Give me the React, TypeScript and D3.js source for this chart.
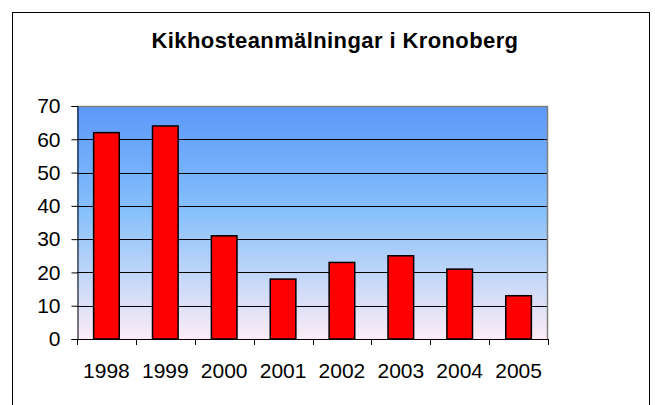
import * as React from "react";
import { useRef, useEffect } from "react";
import * as d3 from "d3";

const years = ["1998", "1999", "2000", "2001", "2002", "2003", "2004", "2005"];
const reports = [62, 64, 31, 18, 23, 25, 21, 13];
const yTicks = [0, 10, 20, 30, 40, 50, 60, 70];
const chartTitle = "Kikhosteanmälningar i Kronoberg";

export default function App() {
  const _ref = useRef<SVGSVGElement>(null);
  useEffect(() => {
    const svg = d3.select(_ref.current);
    svg.selectAll("*").remove();

    const left = 77, right = 548, top = 106, bottom = 339;
    const font = "Liberation Sans, Arial, sans-serif";

    const x = d3.scaleBand().domain(years).range([left, right]).paddingInner(0.565).paddingOuter(0.2825);
    const y = d3.scaleLinear().domain([0, 70]).range([bottom, top]);

    // outer frame
    svg.append("rect")
      .attr("x", 12.5).attr("y", 12.5).attr("width", 637).attr("height", 420)
      .attr("fill", "white").attr("stroke", "black").attr("stroke-width", 1);

    svg.append("text")
      .attr("x", 335).attr("y", 48)
      .attr("text-anchor", "middle")
      .style("font-family", font)
      .style("font-size", "22px").style("font-weight", "bold")
      .style("letter-spacing", "0.4px")
      .text(chartTitle);

    // gradient background
    const defs = svg.append("defs");
    const grad = defs.append("linearGradient").attr("id", "bg").attr("x1", 0).attr("y1", 0).attr("x2", 0).attr("y2", 1);
    grad.append("stop").attr("offset", "0%").attr("stop-color", "#5c98fa");
    grad.append("stop").attr("offset", "45%").attr("stop-color", "#86c0fb");
    grad.append("stop").attr("offset", "100%").attr("stop-color", "#fcecf6");

    svg.append("rect")
      .attr("x", left).attr("y", top).attr("width", right - left).attr("height", bottom - top)
      .attr("fill", "url(#bg)");

    // gridlines
    svg.append("g").selectAll("line").data(yTicks.filter((d) => d > 0 && d < 70)).join("line")
      .attr("x1", left).attr("x2", right)
      .attr("y1", (d) => Math.round(y(d)) + 0.5).attr("y2", (d) => Math.round(y(d)) + 0.5)
      .attr("stroke", "black").attr("stroke-width", 1);

    // plot border top/right
    svg.append("path")
      .attr("d", `M${left},${top + 0.5}H${right - 0.5}V${bottom}`)
      .attr("fill", "none").attr("stroke", "#808080").attr("stroke-width", 1.5);

    // bars
    svg.append("g").selectAll("rect").data(reports).join("rect")
      .attr("x", (d, i) => x(years[i])!)
      .attr("y", (d) => y(d))
      .attr("width", x.bandwidth())
      .attr("height", (d) => y(0) - y(d))
      .attr("fill", "#ff0000").attr("stroke", "black").attr("stroke-width", 1.5);

    // y axis
    const yAxis = svg.append("g")
      .attr("transform", `translate(${left + 0.5},0)`)
      .call(d3.axisLeft(y).tickValues(yTicks).tickSize(6).tickPadding(11).tickFormat(d3.format("d")));
    yAxis.select(".domain").attr("stroke", "black");
    yAxis.selectAll(".tick line").attr("stroke", "black");
    yAxis.selectAll("text")
      .style("font-family", font)
      .style("font-size", "21px").attr("fill", "black");

    // x axis
    const bounds = d3.range(years.length + 1).map((i) => left + (i * (right - left)) / years.length);
    svg.append("line")
      .attr("x1", left).attr("x2", right).attr("y1", bottom + 0.5).attr("y2", bottom + 0.5)
      .attr("stroke", "black");
    svg.append("g").selectAll("line").data(bounds).join("line")
      .attr("x1", (d) => Math.round(d) + 0.5).attr("x2", (d) => Math.round(d) + 0.5)
      .attr("y1", bottom).attr("y2", bottom + 6)
      .attr("stroke", "black");
    svg.append("g").selectAll("text").data(years).join("text")
      .attr("x", (d) => x(d)! + x.bandwidth() / 2)
      .attr("y", 378)
      .attr("text-anchor", "middle")
      .style("font-family", font)
      .style("font-size", "21px")
      .text((d) => d);
  }, []);

  return (
    <svg ref={_ref} width={655} height={405} style={{ position: "absolute", left: 0, top: 0 }} />
  );
}
